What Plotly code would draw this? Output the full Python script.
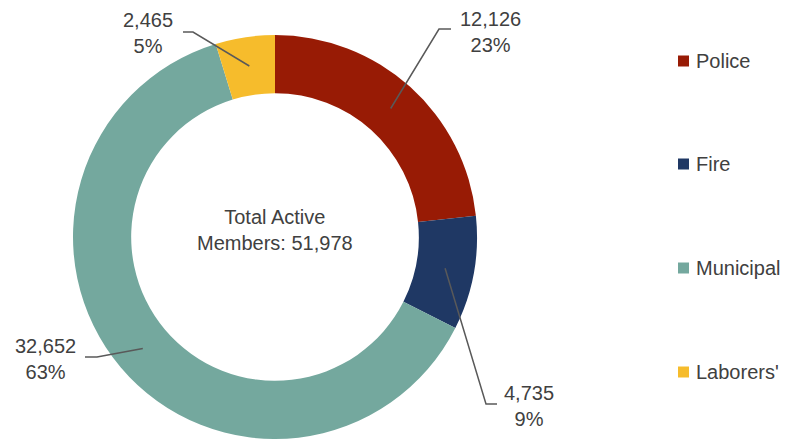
import math
import plotly.graph_objects as go

# ---- data ----
categories = ["Police", "Fire", "Municipal", "Laborers'"]
members = [12126, 4735, 32652, 2465]
colors = ["#981B05", "#1F3864", "#74A89E", "#F6BC2C"]

# ---- layout constants ----
W, H = 785, 439
FONT = "Liberation Sans, Arial, sans-serif"
TXT = "#404040"
LINE = "#595959"
PIE_C = (275, 237)           # pie centre (px)
PIE_R = 205
HOLE = 0.712
# label text centre and leader elbow/end points (px)
label_pos = {
    "Police": dict(text=(490, 32), elbow=(439, 29), end=(451, 29)),
    "Fire": dict(text=(529, 406), elbow=(486, 404), end=(497, 404)),
    "Municipal": dict(text=(45, 359), elbow=(97, 357), end=(85, 357)),
    "Laborers'": dict(text=(148, 33), elbow=(193, 32), end=(183, 32)),
}
CENTER_TXT = (275, 230)
legend_rows = [61, 164, 268, 372]   # legend row centres (px)
LEG_SQ_X = (678, 689)               # legend square left/right (px)
LEG_TXT_X = 694                     # legend text left (px)

total = sum(members)


def px2paper(x, y):
    return x / W, 1 - y / H


fcx, fcy = PIE_C
half = min(PIE_R, H - fcy)
dom_x = [(fcx - half) / W, (fcx + half) / W]
dom_y = [max(0.0, (H - fcy - half) / H), min(1.0, (H - fcy + half) / H)]

fig = go.Figure()
fig.add_trace(go.Pie(
    labels=categories, values=members, sort=False, direction="clockwise",
    rotation=0, hole=HOLE, textinfo="none", showlegend=False,
    marker=dict(colors=colors, line=dict(width=0)),
    domain=dict(x=dom_x, y=dom_y),
))

# geometry of the pie in pixels (from the domain actually used)
cx = (dom_x[0] + dom_x[1]) / 2 * W
cy = H - (dom_y[0] + dom_y[1]) / 2 * H
R = min((dom_x[1] - dom_x[0]) * W, (dom_y[1] - dom_y[0]) * H) / 2
r_mid = R * (1 + HOLE) / 2

annotations = []
shapes = []
cum = 0
for c, v in zip(categories, members):
    mid = (cum + v / 2) / total * 2 * math.pi
    cum += v
    ax = cx + r_mid * math.sin(mid)
    ay = cy - r_mid * math.cos(mid)
    lp = label_pos[c]
    p0 = px2paper(ax, ay)
    p1 = px2paper(*lp["elbow"])
    p2 = px2paper(*lp["end"])
    shapes.append(dict(
        type="path", xref="paper", yref="paper",
        path=f"M {p0[0]},{p0[1]} L {p1[0]},{p1[1]} L {p2[0]},{p2[1]}",
        line=dict(color=LINE, width=1.5),
    ))
    tx, ty = px2paper(*lp["text"])
    pct = round(100 * v / total)
    annotations.append(dict(
        x=tx, y=ty, xref="paper", yref="paper", showarrow=False,
        text=f"{v:,}<br>{pct}%", align="center",
        xanchor="center", yanchor="middle",
        font=dict(size=20, color=TXT, family=FONT),
    ))

# legend (squares + text on the right)
for c, col, ry in zip(categories, colors, legend_rows):
    x0, y0 = px2paper(LEG_SQ_X[0], ry - 5.5)
    x1, y1 = px2paper(LEG_SQ_X[1], ry + 5.5)
    shapes.append(dict(type="rect", xref="paper", yref="paper",
                       x0=x0, x1=x1, y0=y1, y1=y0,
                       fillcolor=col, line=dict(width=0)))
    lx, ly = px2paper(LEG_TXT_X, ry)
    annotations.append(dict(
        x=lx, y=ly, xref="paper", yref="paper", showarrow=False,
        text=c, xanchor="left", yanchor="middle",
        font=dict(size=20, color=TXT, family=FONT),
    ))

ctx, cty = px2paper(*CENTER_TXT)
annotations.append(dict(
    x=ctx, y=cty, xref="paper", yref="paper", showarrow=False,
    text=f"Total Active<br>Members: {total:,}", align="center",
    xanchor="center", yanchor="middle",
    font=dict(size=20, color=TXT, family=FONT),
))

fig.update_layout(
    width=W, height=H, margin=dict(l=0, r=0, t=0, b=0),
    paper_bgcolor="white", plot_bgcolor="white",
    showlegend=False,
    annotations=annotations, shapes=shapes,
    font=dict(family=FONT, color=TXT),
)

# remove the browser's default 8px page margin so the figure fills the window
fig.write_html(
    "out.html",
    config={"displayModeBar": False},
    post_script="document.body.style.margin='0';",
)
